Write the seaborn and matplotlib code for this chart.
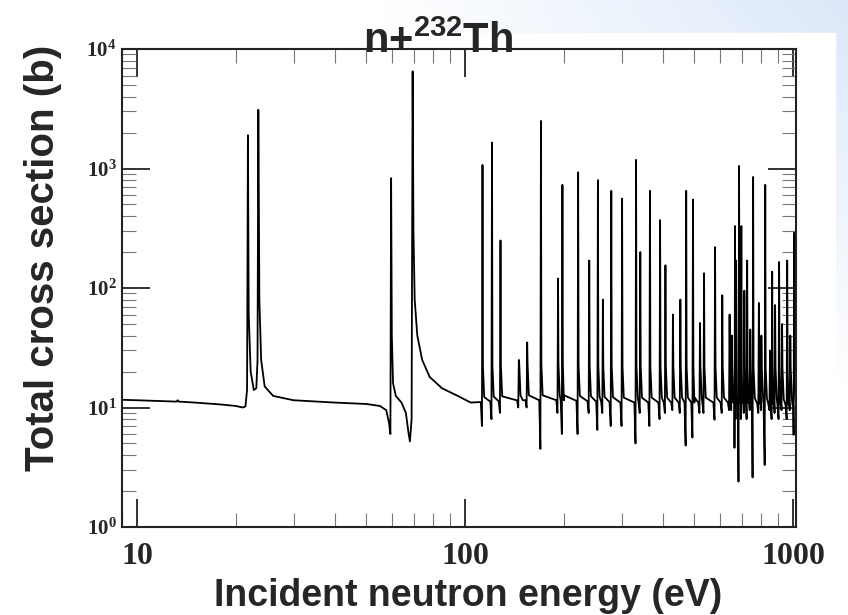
import numpy as np
import pandas as pd
import matplotlib
matplotlib.use("Agg")
import matplotlib.pyplot as plt
import seaborn as sns
from matplotlib.ticker import LogLocator, NullFormatter, LogFormatterSciNotation

# ---------------- data ----------------
# explicit vertices for the low-energy part (eV, barn)
E_low = [9.0, 10.0, 12.0, 13.2, 13.3, 13.4, 15.0, 18.0, 20.0, 21.0, 21.4, 21.65,
         21.78, 21.9, 22.2, 22.7, 23.1, 23.3, 23.43, 23.6, 23.9, 24.5, 26.0, 30.0,
         40.0, 50.0, 55.0, 57.5, 58.6, 59.2, 59.5, 59.8, 60.3, 61.5, 64.0, 66.0,
         67.3, 67.9, 68.7, 69.2, 69.6, 70.2, 71.5, 74.0, 78.0, 85.0, 95.0, 104.0]
S_low = [11.6, 11.5, 11.3, 11.2, 11.5, 11.2, 11.0, 10.6, 10.3, 10.0, 10.2, 14.0,
         1900, 60.0, 20.0, 14.0, 14.5, 25.0, 3100, 80.0, 25.0, 15.0, 12.5, 11.5,
         11.0, 10.7, 10.3, 9.5, 7.5, 6.0, 830, 40.0, 16.0, 12.5, 11.0, 9.0,
         6.0, 5.2, 8.0, 6500, 300, 80.0, 40.0, 25.0, 18.0, 14.5, 12.5, 11.0]

# resonances above 100 eV: energy (eV), peak (b), dip just below the peak (b)
res_E = [113.0, 120.8, 128.2, 145.8, 154.6, 170.3, 192.0, 198.0, 221.1, 239.0,
         254.0, 263.0, 279.0, 301.0, 332.0, 342.0, 366.0, 393.0, 408.0, 430.0,
         453.0, 472.0, 495.0, 520.0, 535.0, 578.0, 608.0, 640.0, 650.0, 665.0,
         670.0, 684.0, 695.0, 710.0, 724.0, 740.0, 755.0, 786.0, 800.0, 822.0,
         850.0, 863.0, 881.0, 906.0, 925.0, 959.0, 980.0, 1007.0]
res_pk = [1070, 1650, 250, 25, 35, 2500, 120, 730, 930, 170,
          800, 80, 650, 560, 1180, 200, 650, 370, 155, 60,
          80, 650, 550, 51, 133, 220, 87, 60, 40, 330,
          170, 1050, 330, 95, 170, 45, 850, 75, 40, 730,
          30, 137, 72, 165, 50, 170, 40, 290]
res_dp = [7.0, 8.0, 9.0, 10.0, 10.0, 4.5, 9.0, 6.0, 6.0, 9.0,
          6.5, 9.0, 7.0, 7.0, 5.0, 9.0, 7.0, 8.0, 9.0, 9.5,
          9.0, 4.8, 5.6, 9.0, 9.0, 7.9, 9.0, 9.5, 9.5, 4.6,
          8.0, 2.4, 8.0, 9.0, 8.0, 9.5, 2.6, 9.0, 9.5, 3.3,
          9.5, 8.0, 9.0, 8.0, 9.5, 8.0, 9.5, 5.9]

# smooth background between resonances
bg_E = [104.0, 150.0, 200.0, 300.0, 500.0, 700.0, 1000.0, 1020.0]
bg_S = [11.0, 11.5, 11.5, 11.0, 11.0, 11.0, 10.5, 10.5]

x_ticks = [10, 100, 1000]
x_tick_labels = ["10", "100", "1000"]
title_text = "n+$^{\\mathsf{232}}$Th"
x_label = "Incident neutron energy (eV)"
y_label = "Total cross section (b)"

# ---------------- build the curve ----------------
bgE = np.array(bg_E); bgS = np.array(bg_S)
def bg(e):
    return 10 ** np.interp(np.log10(e), np.log10(bgE), np.log10(bgS))

pts = [(e, s) for e, s in zip(E_low, S_low)]
for e in bgE[1:]:
    pts.append((e, bg(e)))
for e, p, d in zip(res_E, res_pk, res_dp):
    b = bg(e)
    pts += [(e * 0.988, b), (e * 0.996, d), (e, p), (e * 1.003, b * 2.0), (e * 1.012, b * 1.1)]
pts.sort()
df = pd.DataFrame(pts, columns=["energy", "sigma"])

# ---------------- figure ----------------
sns.set_theme(style="white")
plt.rcParams["font.family"] = ["Liberation Sans", "DejaVu Sans"]
plt.rcParams["mathtext.fontset"] = "custom"
plt.rcParams["mathtext.sf"] = "Liberation Sans:bold"
plt.rcParams["mathtext.rm"] = "Liberation Serif:bold"

fig = plt.figure(figsize=(8.48, 6.15), dpi=100, facecolor="white")

# slide-like background gradient (top right)
bgax = fig.add_axes([0, 0, 1, 1], zorder=-10)
H, W = 123, 170
yy, xx = np.mgrid[0:H, 0:W]
alpha = np.clip((xx / W - 0.45) / 0.55, 0, 1) * np.clip(1 - yy / H * 1.6, 0, 1)
img = np.zeros((H, W, 4))
img[..., 0] = 0.86; img[..., 1] = 0.91; img[..., 2] = 0.98
img[..., 3] = alpha
bgax.imshow(img, extent=[0, 1, 0, 1], aspect="auto", origin="upper")
bgax.add_patch(plt.Rectangle((0, 0), 835 / 848, 1 - 33 / 615, color="white", zorder=2))
bgax.set_xlim(0, 1); bgax.set_ylim(0, 1)
bgax.axis("off")

ax = fig.add_axes([122 / 848, 1 - 527 / 615, (796 - 122) / 848, (527 - 49) / 615])
ax.set_facecolor("white")
sns.lineplot(data=df, x="energy", y="sigma", ax=ax, color="black", linewidth=1.3,
             sort=False, estimator=None)
ax.set_xscale("log"); ax.set_yscale("log")
ax.set_xlim(9.0, 1020)
ax.set_ylim(1, 1e4)

ax.set_xticks(x_ticks)
ax.set_xticklabels(x_tick_labels)
ax.xaxis.set_minor_locator(LogLocator(base=10, subs=np.arange(2, 10)))
ax.xaxis.set_minor_formatter(NullFormatter())
ax.yaxis.set_major_locator(LogLocator(base=10, numticks=10))
ax.yaxis.set_major_formatter(LogFormatterSciNotation())
ax.yaxis.set_minor_locator(LogLocator(base=10, subs=np.arange(2, 10), numticks=10))
ax.yaxis.set_minor_formatter(NullFormatter())

ax.tick_params(which="both", direction="in", top=True, right=True, bottom=True, left=True)
ax.tick_params(which="major", length=20, width=1.4, color="#333333")
ax.tick_params(which="minor", length=10, width=0.8, color="#777777")
ax.tick_params(axis="x", which="major", pad=11)
ax.tick_params(axis="y", which="major", pad=4)
for lab in ax.get_xticklabels():
    lab.set_fontfamily("Liberation Serif"); lab.set_fontweight("bold"); lab.set_fontsize(23)
for lab in ax.get_yticklabels():
    lab.set_fontfamily("Liberation Serif"); lab.set_fontweight("bold"); lab.set_fontsize(15)
for sp in ax.spines.values():
    sp.set_linewidth(1.5); sp.set_color("#222222")

ax.set_xlabel(x_label, fontsize=27, fontweight="bold")
ax.xaxis.set_label_coords((468 - 122) / 674, -0.107, transform=ax.transAxes)
ax.xaxis.label.set_va("top")
ax.set_ylabel(y_label, fontsize=29, fontweight="bold")
ax.yaxis.set_label_coords(-0.089, 0.563, transform=ax.transAxes)
fig.text(438 / 848, 1 - 53 / 615, title_text, fontsize=30, fontweight="bold",
         ha="center", va="baseline", zorder=20)

fig.savefig("out.png", dpi=100, facecolor=fig.get_facecolor())
